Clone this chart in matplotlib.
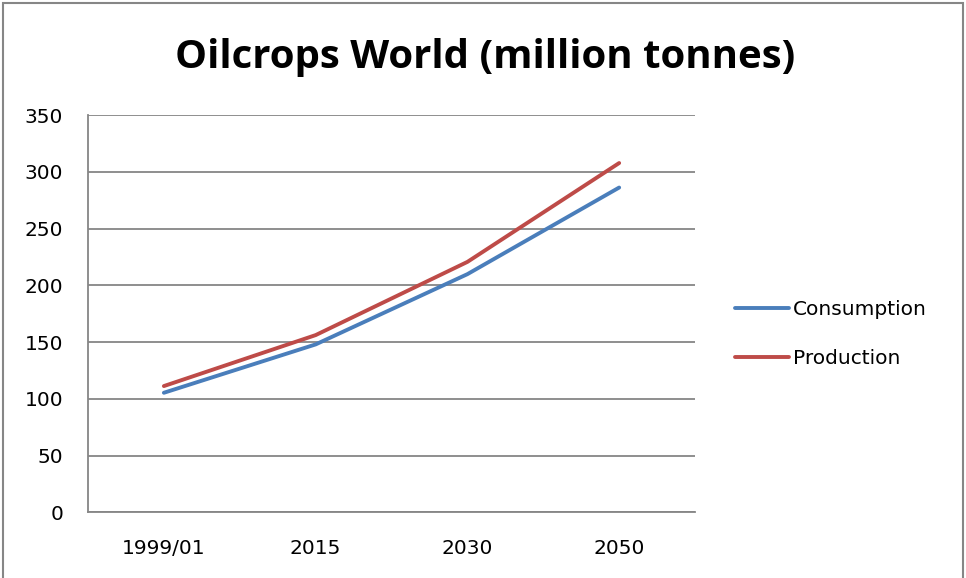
import matplotlib.pyplot as plt
from matplotlib.patches import Rectangle

years = ['1999/01', '2015', '2030', '2050']
consumption = [105.3, 147.9, 209.8, 286.1]
production = [111.2, 156.1, 220.6, 307.7]

plt.rcParams['font.family'] = ['DejaVu Sans']

fig = plt.figure(figsize=(9.66, 5.78), dpi=100)
ax = fig.add_axes([0.0911, 0.1137, 0.6284, 0.6873])

x = range(len(years))
ax.plot(x, consumption, color='#4A7EBB', lw=2.8, label='Consumption', solid_capstyle='round')
ax.plot(x, production, color='#BE4B48', lw=2.8, label='Production', solid_capstyle='round')

ax.set_xlim(-0.5, len(years) - 0.5)
ax.set_ylim(0, 350)
ax.set_yticks(range(0, 351, 50))
ax.set_xticks(list(x))
ax.set_xticklabels(years)
ax.grid(axis='y', color='#868686', lw=1.3)
ax.set_axisbelow(True)
for s in ['top', 'right']:
    ax.spines[s].set_visible(False)
for s in ['left', 'bottom']:
    ax.spines[s].set_color('#868686')
    ax.spines[s].set_linewidth(1.3)
ax.tick_params(axis='both', length=0, labelsize=14.5, colors='black')
ax.tick_params(axis='y', pad=18)
ax.tick_params(axis='x', pad=19)

fig.text(0.502, 0.882, 'Oilcrops World (million tonnes)', ha='center', va='baseline',
         fontsize=29, fontweight='bold', family='Open Sans')

fig.legend(loc='center left', bbox_to_anchor=(0.742, 0.422), frameon=False,
           fontsize=14.5, handlelength=2.7, handletextpad=0.2, labelspacing=1.45)

fig.patches.append(Rectangle((0.003, -0.01), 0.994, 1.005, transform=fig.transFigure,
                             fill=False, edgecolor='#868686', lw=1.5))

fig.savefig('out.png', dpi=100)
